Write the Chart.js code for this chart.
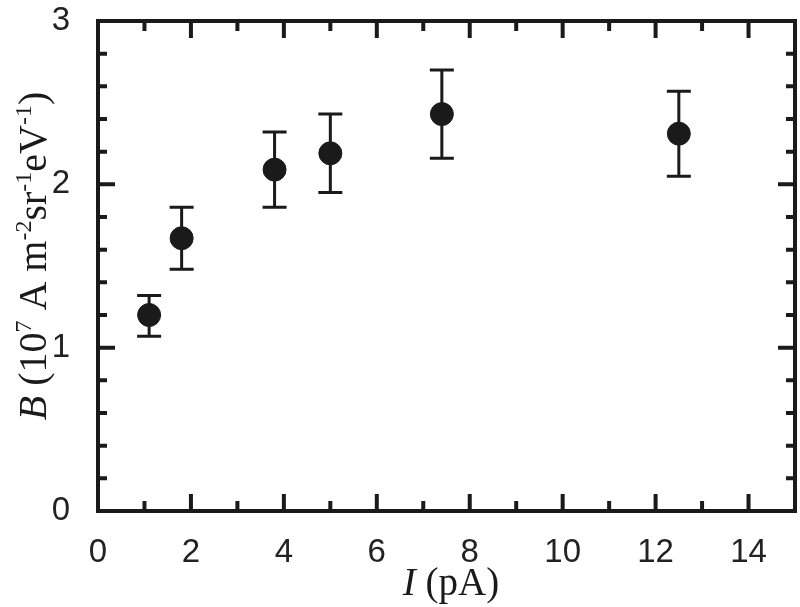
<!DOCTYPE html>
<html>
<head>
<meta charset="utf-8">
<script src="https://cdn.jsdelivr.net/npm/chart.js@4"></script>
<style>
    html, body { margin: 0; padding: 0; background: #fff; overflow: hidden; }
    canvas { display: block; }
</style>
</head>
<body>
<canvas id="chart" width="800" height="607"></canvas>
<script>
// I (pA) vs B with error bars
const currents = [1.1, 1.8, 3.8, 5.0, 7.4, 12.5];
const brightness = [1.20, 1.67, 2.09, 2.19, 2.43, 2.31];
const errLow = [1.07, 1.48, 1.86, 1.95, 2.16, 2.05];
const errHigh = [1.32, 1.86, 2.32, 2.43, 2.70, 2.57];
const xLabels = [0, 2, 4, 6, 8, 10, 12, 14];
const yLabels = [0, 1, 2, 3];

const ink = '#1a1a1a';
const serif = '"Liberation Serif", "Times New Roman", serif';

// vertical error bars with caps
const errorBars = {
    id: 'errorBars',
    beforeDatasetsDraw(chart) {
        const { ctx, scales: { x, y } } = chart;
        ctx.save();
        ctx.strokeStyle = ink;
        ctx.lineWidth = 3;
        currents.forEach((c, i) => {
            const px = x.getPixelForValue(c);
            const top = y.getPixelForValue(errHigh[i]);
            const bot = y.getPixelForValue(errLow[i]);
            ctx.beginPath();
            ctx.moveTo(px, top); ctx.lineTo(px, bot);
            ctx.moveTo(px - 12, top); ctx.lineTo(px + 12, top);
            ctx.moveTo(px - 12, bot); ctx.lineTo(px + 12, bot);
            ctx.stroke();
        });
        ctx.restore();
    }
};

// closed frame with inward ticks on all four sides
const frame = {
    id: 'frame',
    afterDraw(chart) {
        const { ctx, chartArea: a, scales: { x, y } } = chart;
        ctx.save();
        ctx.strokeStyle = ink;
        ctx.lineWidth = 4;
        ctx.lineCap = 'butt';
        x.ticks.forEach(t => {
            if (t.value <= x.min || t.value >= x.max) return;
            const px = x.getPixelForValue(t.value);
            const len = t.label !== '' ? 17 : 10;
            ctx.beginPath();
            ctx.moveTo(px, a.bottom); ctx.lineTo(px, a.bottom - len);
            ctx.moveTo(px, a.top); ctx.lineTo(px, a.top + len);
            ctx.stroke();
        });
        y.ticks.forEach(t => {
            if (t.value <= y.min + 1e-9 || t.value >= y.max - 1e-9) return;
            const py = y.getPixelForValue(t.value);
            const len = t.label !== '' ? 17 : 9;
            ctx.beginPath();
            ctx.moveTo(a.left, py); ctx.lineTo(a.left + len, py);
            ctx.moveTo(a.right, py); ctx.lineTo(a.right - len, py);
            ctx.stroke();
        });
        ctx.strokeRect(a.left, a.top, a.right - a.left, a.bottom - a.top);
        ctx.restore();
        drawTitles(chart);
    }
};

// text runs: [text, isSuperscript, isItalic]
const yTitle = [['B', false, true], [' (10', false, false], ['7', true, false], [' A m', false, false],
    ['-2', true, false], ['sr', false, false], ['-1', true, false], ['eV', false, false], ['-1', true, false], [')', false, false]];
const xTitle = [['I', false, true], [' (pA)', false, false]];

function drawRuns(ctx, runs, size) {
    const fontFor = r => `${r[2] ? 'italic ' : ''}${r[1] ? Math.round(size * 0.6) : size}px ${serif}`;
    let total = 0;
    runs.forEach(r => { ctx.font = fontFor(r); total += ctx.measureText(r[0]).width; });
    let pos = -total / 2;
    runs.forEach(r => {
        ctx.font = fontFor(r);
        ctx.fillText(r[0], pos, r[1] ? -size * 0.38 : 0);
        pos += ctx.measureText(r[0]).width;
    });
}

function drawTitles(chart) {
    const { ctx } = chart;
    ctx.save();
    ctx.fillStyle = ink;
    ctx.textBaseline = 'alphabetic';
    ctx.textAlign = 'left';
    ctx.save();
    ctx.translate(46, 256);
    ctx.rotate(-Math.PI / 2);
    drawRuns(ctx, yTitle, 40);
    ctx.restore();
    ctx.translate(451, 595);
    drawRuns(ctx, xTitle, 39);
    ctx.restore();
}

// drop the label overhang padding so the plot box lands where the reference has it
const noPad = s => { s.paddingTop = 0; s.paddingBottom = 0; s.paddingLeft = 0; s.paddingRight = 0; };

const ctx = document.getElementById('chart').getContext('2d');
new Chart(ctx, {
    type: 'scatter',
    data: {
        datasets: [{
            data: currents.map((c, i) => ({ x: c, y: brightness[i] })),
            backgroundColor: ink,
            borderColor: ink,
            pointRadius: 11.5,
            pointHoverRadius: 11.5
        }]
    },
    plugins: [errorBars, frame],
    options: {
        responsive: false,
        animation: false,
        layout: { autoPadding: false, padding: { left: 0, top: 21, right: 5, bottom: 0 } },
        plugins: { legend: { display: false }, tooltip: { enabled: false } },
        scales: {
            x: {
                type: 'linear',
                min: 0,
                max: 15,
                grid: { display: false },
                border: { display: false },
                afterFit: s => { s.height = 96; noPad(s); },
                ticks: {
                    stepSize: 1,
                    maxRotation: 0,
                    autoSkip: false,
                    padding: 14,
                    color: '#222',
                    font: { family: '"Liberation Sans", Arial, sans-serif', size: 33 },
                    callback: v => xLabels.includes(v) ? String(v) : ''
                }
            },
            y: {
                min: 0,
                max: 3,
                grid: { display: false },
                border: { display: false },
                afterFit: s => { s.width = 98; noPad(s); },
                ticks: {
                    stepSize: 0.2,
                    autoSkip: false,
                    padding: 20,
                    color: '#222',
                    font: { family: '"Liberation Sans", Arial, sans-serif', size: 33 },
                    callback: v => {
                        const r = Math.round(v);
                        return Math.abs(v - r) < 1e-6 && yLabels.includes(r) ? String(r) : '';
                    }
                }
            }
        }
    }
});
</script>
</body>
</html>
